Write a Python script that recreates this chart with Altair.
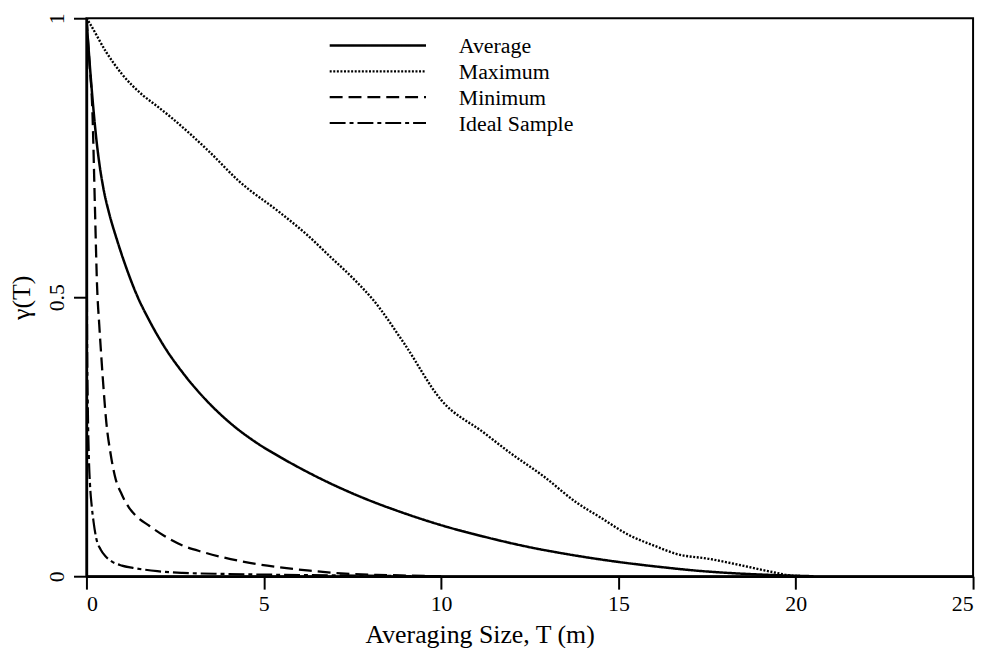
import altair as alt
import pandas as pd

SERIES = ["Average", "Maximum", "Minimum", "Ideal Sample"]

T_avg = [0, 0.05, 0.1, 0.15, 0.2, 0.28, 0.37, 0.47, 0.65, 0.84, 1.1, 1.4, 1.8, 2.24, 2.7, 3.18,
         3.6, 4.12, 4.8, 5.45, 6.5, 7.74, 9.0, 10.08, 11.2, 12.42, 13.7, 14.95, 16.26, 17.2,
         17.94, 19.0, 20.5]
g_avg = [1.0, 0.955, 0.912, 0.872, 0.835, 0.783, 0.737, 0.698, 0.648, 0.607, 0.557, 0.507,
         0.455, 0.407, 0.366, 0.329, 0.301, 0.271, 0.239, 0.214, 0.178, 0.142, 0.112, 0.090,
         0.071, 0.053, 0.038, 0.026, 0.016, 0.010, 0.0065, 0.003, 0.0]

T_max = [0, 0.1, 0.56, 1.0, 1.59, 2.0, 2.43, 3.46, 4.30, 5.45, 6.2, 6.9, 7.5, 8.1, 8.96, 10.0,
         11.21, 11.95, 12.89, 13.82, 14.5, 15.32, 16.0, 16.63, 17.57, 18.5, 19.34, 19.9, 20.3]
g_max = [1.0, 0.99, 0.939, 0.90, 0.862, 0.842, 0.82, 0.761, 0.708, 0.652, 0.613, 0.571, 0.535,
         0.494, 0.417, 0.316, 0.257, 0.221, 0.179, 0.132, 0.105, 0.073, 0.055, 0.040, 0.031,
         0.019, 0.0075, 0.001, 0.0]

T_min = [0, 0.08, 0.17, 0.24, 0.3, 0.36, 0.42, 0.49, 0.56, 0.68, 0.8, 1.0, 1.2, 1.4, 1.78, 2.2,
         2.71, 3.3, 3.84, 4.6, 5.45, 6.3, 7.3, 8.5, 10.0]
g_min = [1.0, 0.925, 0.83, 0.66, 0.52, 0.452, 0.393, 0.33, 0.276, 0.22, 0.18, 0.146, 0.123,
         0.108, 0.09, 0.072, 0.055, 0.043, 0.034, 0.024, 0.016, 0.01, 0.0045, 0.002, 0.0]

T_id = [0, 0.005, 0.01, 0.02, 0.04, 0.07, 0.1, 0.15, 0.2, 0.28, 0.4, 0.55, 0.7, 1.0, 1.31, 2.0,
        2.71, 4.0, 5.5, 7.0, 8.5, 10.0]
g_id = [1.0, 0.8, 0.6, 0.42, 0.3, 0.21, 0.165, 0.125, 0.098, 0.067, 0.048, 0.035, 0.027, 0.019,
        0.015, 0.009, 0.006, 0.004, 0.0025, 0.0015, 0.0007, 0.0]

X_TICKS = [0, 5, 10, 15, 20, 25]
Y_TICKS = [0, 0.5, 1]

DASHES = [[1, 0], [2, 1.6], [13, 6], [16, 4, 4, 4]]
WIDTHS = [2.5, 2.2, 2.2, 2.2]

frames = []
for name, xs, ys in zip(SERIES, [T_avg, T_max, T_min, T_id], [g_avg, g_max, g_min, g_id]):
    frames.append(pd.DataFrame({"T": xs, "g": ys, "series": name}))
df = pd.concat(frames, ignore_index=True)

FONT = "Liberation Serif"
W, H = 893, 562

lines = alt.Chart(df).mark_line(color="black", interpolate="monotone", clip=True).encode(
    x=alt.X("T:Q", scale=alt.Scale(domain=[0, 25], nice=False),
            axis=alt.Axis(values=X_TICKS, format="d", title="Averaging Size, T (m)",
                          titleX=396, titleY=67, titleAlign="center",
                          titleBaseline="alphabetic")),
    y=alt.Y("g:Q", scale=alt.Scale(domain=[0, 1], nice=False),
            axis=alt.Axis(values=Y_TICKS, format="~g", title="γ(T)", labelAngle=-90,
                          labelAlign="center", labelBaseline="bottom", labelPadding=5,
                          titleX=-65, titleY=H / 2, titleAngle=-90, titleAlign="center",
                          titleBaseline="middle")),
    strokeDash=alt.StrokeDash("series:N", scale=alt.Scale(domain=SERIES, range=DASHES), legend=None),
    strokeWidth=alt.StrokeWidth("series:N", scale=alt.Scale(domain=SERIES, range=WIDTHS), legend=None),
    detail="series:N",
)

layers = [lines]
for i, name in enumerate(SERIES):
    ypos = 27.5 + 26 * i
    d = pd.DataFrame({"name": [name]})
    layers.append(
        alt.Chart(d).mark_rule(color="black", strokeDash=DASHES[i], strokeWidth=WIDTHS[i]).encode(
            x=alt.value(245), x2=alt.value(342), y=alt.value(ypos)
        )
    )
    layers.append(
        alt.Chart(d).mark_text(align="left", baseline="middle", font=FONT, fontSize=22,
                               color="black").encode(
            x=alt.value(375), y=alt.value(ypos + 1), text="name:N"
        )
    )

chart = alt.layer(*layers).properties(
    width=W, height=H,
    autosize=alt.AutoSizeParams(type="none"),
    padding={"left": 79, "top": 8, "right": 10, "bottom": 70},
).configure_view(
    stroke="black", strokeWidth=2
).configure_axis(
    grid=False, domainColor="black", domainWidth=2.5, tickColor="black", tickWidth=2,
    tickSize=13, labelFont=FONT, labelFontSize=22, labelColor="black",
    titleFont=FONT, titleFontSize=26, titleFontWeight="normal", titleColor="black",
).configure_axisX(labelPadding=5)

chart.save("out.html", embed_options={"renderer": "svg", "actions": False})
